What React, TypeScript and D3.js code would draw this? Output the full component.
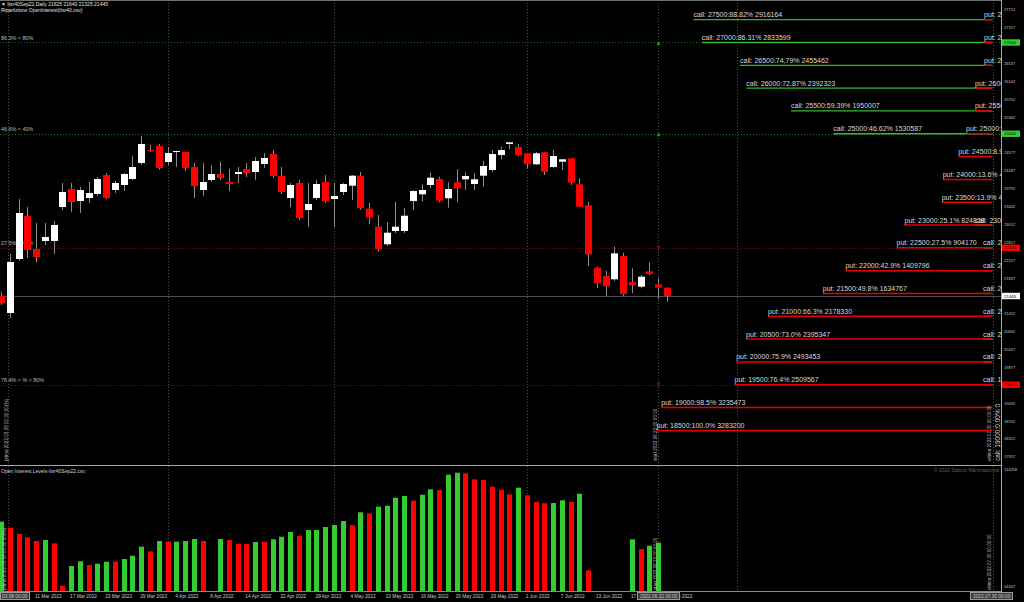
import React from "react";
import * as d3 from "d3";

const W = 1024;
const H = 602;

// ---- Daily candles (Itsr40Sep22) ----
const opens = [21445,21072,22256,23198,22475,22650,22650,23395,23789,23526,23592,23680,24096,23768,23877,24009,24359,24644,24732,24381,24600,24600,24272,23768,23987,24118,23943,24118,24228,24162,24337,24556,24074,23592,23921,23329,23592,23943,23570,23724,23862,24081,23358,22963,22578,22869,22869,23526,23673,23877,24009,23586,23936,24002,23899,24081,24206,24534,24776,24710,24572,24331,24594,24272,24388,24462,23892,23432,22065,21883,21811,22321,21745,21649,21986,21701,21625];
const highs = [21532,22365,23570,23395,23044,23044,23088,23921,23921,23833,23943,24053,24140,23965,24140,24513,24951,24754,24776,24710,24630,24610,24359,24359,24315,24381,24228,24272,24359,24491,24578,24644,24272,23921,23987,23921,23987,24096,23921,23921,24096,24162,23489,23220,23066,23511,23373,23760,23892,24147,24059,23936,24221,24155,24133,24403,24644,24716,24813,24776,24580,24600,24600,24644,24445,24470,24024,23511,22087,21999,22525,22394,22052,21905,22183,21833,21640];
const lows = [21248,20963,22212,22277,22190,22562,22365,23329,23285,23264,23483,23636,23570,23702,23746,23987,24315,24600,24206,24315,24272,24184,23592,23636,23943,23987,23746,23921,24053,23987,24250,24031,23680,23395,23110,22957,23548,23483,22957,23658,23548,23329,23022,22416,22541,22825,22825,23329,23511,23805,23498,23380,23498,23768,23768,23840,24162,24440,24659,24512,24243,24315,24096,24250,24206,23877,23395,22102,21614,21445,21774,21445,21504,21614,21905,21379,21325];
const closes = [21291,22190,23264,22453,22299,22738,23001,23724,23505,23768,23702,24009,23592,23921,24118,24272,24776,24622,24250,24578,24622,24250,23855,23943,24118,24031,23899,24162,24140,24403,24469,24074,23724,23877,23154,23461,23899,23526,23636,23899,24081,23367,23169,22468,22832,22963,23204,23746,23768,24037,23533,23789,23805,24074,24002,24294,24556,24644,24813,24534,24331,24572,24169,24513,24440,23928,23402,22359,21723,21657,22380,21489,21679,21868,21927,21627,21445];

// ---- Open interest histogram (lower pane) ----
const oiValues = [87782,84710,81484,79794,77899,78411,76721,55008,65096,67503,65608,66274,67298,67298,68681,70371,74980,72624,77899,77540,77540,77899,78923,77899,null,78923,78411,76516,76363,77387,77387,78769,80101,82508,80613,83532,83532,85068,86092,88141,85939,92596,92084,95464,95976,100073,100943,98537,101609,104374,104016,111851,112875,112568,109495,109137,105706,104170,101814,105194,101302,97871,97205,97359,98741,97871,102121,62894,null,null,null,null,78769,73802,75492,77028,null];
const oiUp = [1,0,0,0,0,1,0,0,1,1,0,1,1,0,1,1,1,0,1,0,1,1,1,0,null,1,0,0,0,1,0,1,1,1,0,1,1,1,1,1,0,1,0,1,1,1,1,0,1,1,0,1,1,0,0,0,0,0,0,1,0,0,0,1,1,0,1,0,null,null,null,null,1,0,1,1,null];

// ---- Time axis ----
const timeLabels = ["11 Mar 2022","17 Mar 2022","23 Mar 2022","29 Mar 2022","4 Apr 2022","8 Apr 2022","14 Apr 2022","22 Apr 2022","28 Apr 2022","4 May 2022","10 May 2022","16 May 2022","20 May 2022","26 May 2022","1 Jun 2022","7 Jun 2022","13 Jun 2022","17 Jun 2022","23 Jun 2022"];
const timeLabelBars = [4,8,12,16,20,24,28,32,36,40,44,48,52,56,60,64,68,72,76];
const monthGridBars = [19, 38, 60, 84];
const firstBar = 0.75;
const startBar = 75;
const lastBar = 113.2;

// ---- Price axis ----
const priceTicks = [27712,27317,26537,26142,25752,25362,24577,24187,23792,23402,23012,22617,22227,21837,21052,20662,20267,19877,19092,18702,18312,17917];
const oiTicks = [114258, 54347];
const lastPrice = 21445;

// ---- Strikes ----
const strikes = [27500,27000,26500,26000,25500,25000,24500,24000,23500,23000,22500,22000,21500,21000,20500,20000,19500,19000,18500];
const callOI = [2916164,2833599,2455462,2392323,1950007,1530587,null,null,null,126000,46600,46600,46600,46600,46600,46600,46600,null,null];
const callPct = [88.82,86.31,74.79,72.87,59.39,46.62,null,null,null,3.84,1.42,1.42,1.42,1.42,1.42,1.42,1.42,null,null];
const putOI = [36700,36700,36700,126000,126000,215000,292000,446515,456365,824828,904170,1409796,1634767,2178330,2395347,2493453,2509567,3235473,3283200];
const putPct = [1.1,1.1,1.1,3.8,3.8,6.5,8.9,13.6,13.9,25.1,27.5,42.9,49.8,66.3,73.0,75.9,76.4,98.5,100.0];

// ---- Level lines ----
const levelPrices = [27000, 25000, 22500, 19500];
const levelTexts = ["86.3% < 80%", "46.6% < 40%", "27.5% < 40%", "76.4% < % < 80%"];
const levelIsCall = [true, true, false, false];

const FONT = "'Liberation Sans', Arial, sans-serif";
const PLOT_R = 1001;
const TOP_B = 465;
const LOW_T = 466;
const LOW_B = 591;

export default function App() {
  const x = d3.scaleLinear().domain([0, 76]).range([1, 667]);
  const y = d3.scaleLinear().domain([17917, 27712]).range([457, 10]);
  const yOI = d3.scaleLinear().domain([54347, 114258]).range([587, 470]);
  const len = d3.scaleLinear().domain([0, 3283200]).range([4.8, 336]);
  const lineEnd = 992.5;

  const green = "#2fb82f";
  const red = "#e80000";

  const rotText = (tx: number, ty: number, s: string, size: number, fill: string, key: string) => (
    <text key={key} transform={`translate(${tx},${ty}) rotate(-90)`} fontSize={size} fill={fill} fontFamily={FONT}>{s}</text>
  );

  const vLines = (y0: number, y1: number, k: string) => (
    <g key={k}>
      {monthGridBars.map((b, i) => (
        <line key={i} x1={Math.round(x(b)) + 0.5} x2={Math.round(x(b)) + 0.5} y1={y0} y2={y1} stroke="#4a4a4a" strokeDasharray="1 2" />
      ))}
      <line x1={Math.round(x(firstBar)) + 0.5} x2={Math.round(x(firstBar)) + 0.5} y1={y0} y2={y1} stroke="#4a4a4a" strokeDasharray="1 2" />
      <line x1={Math.round(x(startBar)) + 0.5} x2={Math.round(x(startBar)) + 0.5} y1={y0} y2={y1} stroke="#555" strokeDasharray="1 2" />
      <line x1={Math.round(x(lastBar)) + 0.5} x2={Math.round(x(lastBar)) + 0.5} y1={y0} y2={y1} stroke="#555" strokeDasharray="1 2" />
    </g>
  );

  return (
    <div style={{ position: "absolute", left: 0, top: 0 }}>
      <svg width={W} height={H} style={{ display: "block", background: "#000" }}>
        <defs>
          <clipPath id="top"><rect x={0} y={0} width={PLOT_R} height={TOP_B} /></clipPath>
          <clipPath id="low"><rect x={0} y={LOW_T} width={PLOT_R} height={LOW_B - LOW_T} /></clipPath>
        </defs>
        <rect x={0} y={0} width={W} height={H} fill="#000" />

        {/* ---------- upper pane ---------- */}
        <g clipPath="url(#top)">
          {vLines(0, TOP_B, "vt")}
          {levelPrices.map((p, i) => (
            <line key={i} x1={0} x2={PLOT_R} y1={Math.round(y(p)) + 0.5} y2={Math.round(y(p)) + 0.5}
              stroke={levelIsCall[i] ? "#1d6e1d" : "#7a0c0c"} strokeDasharray="1 2" />
          ))}
          {levelPrices.map((p, i) => (
            <text key={"lt" + i} x={1} y={y(p) - 2.5} fontSize={5.4} fill="#bdbdbd" fontFamily={FONT}>{levelTexts[i]}</text>
          ))}
          <line x1={0} x2={PLOT_R} y1={Math.round(y(lastPrice)) + 0.5} y2={Math.round(y(lastPrice)) + 0.5} stroke="#4b4b5c" />

          {opens.map((o, i) => {
            const c = closes[i];
            const up = c >= o;
            const cx = Math.round(x(i));
            const yt = Math.min(y(o), y(c));
            const hb = Math.max(1, Math.abs(y(o) - y(c)));
            return (
              <g key={i}>
                <line x1={cx + 0.5} x2={cx + 0.5} y1={y(highs[i])} y2={y(lows[i])} stroke="#8c8c8c" />
                <rect x={cx - 3} y={yt} width={7} height={hb} fill={up ? "#ffffff" : "#ff0000"} />
              </g>
            );
          })}

          {levelPrices.map((p, i) => {
            const mx = Math.round(x(startBar)) + 0.5;
            const my = y(p) + 1;
            return levelIsCall[i]
              ? <path key={"m" + i} d={`M${mx - 2},${my + 1.5} L${mx + 2},${my + 1.5} L${mx},${my - 2.5} Z`} fill="#1f8f1f" />
              : <path key={"m" + i} d={`M${mx - 2},${my - 3} L${mx + 2},${my - 3} L${mx},${my + 1} Z`} fill="#7a1010" />;
          })}

          {strikes.map((k, i) => callOI[i] == null ? null : (
            <line key={"cl" + i} x1={lineEnd - len(callOI[i] as number)} x2={lineEnd} y1={y(k)} y2={y(k)} stroke={green} strokeWidth={1.3} />
          ))}
          {strikes.map((k, i) => (
            <line key={"pl" + i} x1={lineEnd - len(putOI[i])} x2={lineEnd} y1={y(k)} y2={y(k)} stroke={red} strokeWidth={1.5} />
          ))}
          {strikes.map((k, i) => callOI[i] == null ? null : (
            <text key={"ct" + i} x={lineEnd - len(callOI[i] as number)} y={y(k) - 2.5} fontSize={7} fill="#d9d9d9" fontFamily={FONT}>
              {`call: ${k}:${(callPct[i] as number).toFixed(2)}% ${callOI[i]}`}
            </text>
          ))}
          {strikes.map((k, i) => (
            <text key={"pt" + i} x={lineEnd - len(putOI[i])} y={y(k) - 2.5} fontSize={7} fill="#d9d9d9" fontFamily={FONT}>
              {`put: ${k}:${putPct[i].toFixed(1)}% ${putOI[i]}`}
            </text>
          ))}

          {rotText(7.5, 461, "prima 2022.03.08 00:00:00(%)", 4.6, "#bdbdbd", "r1")}
          {rotText(x(startBar) - 1, 461, "start 2022.06.22 00:00:00", 4.6, "#bdbdbd", "r2")}
          {rotText(x(lastBar) - 2, 461, "ultima 2022.07.30 00:00:00", 4.6, "#bdbdbd", "r3")}
          {rotText(999.5, 461, "call: 19000:0.00% 0", 6.5, "#d9d9d9", "r4")}

          <text x={1} y={6} fontSize={5} fill="#e0e0e0" fontFamily={FONT}>▼ Itsr40Sep22,Daily  21625 21640 21325 21445</text>
          <text x={1} y={12} fontSize={5} fill="#e0e0e0" fontFamily={FONT}>Ripartizione OpenInterest(Itsr40.csv)</text>
        </g>

        {/* ---------- lower pane ---------- */}
        <g clipPath="url(#low)">
          {vLines(LOW_T, LOW_B, "vl")}
          {oiValues.map((v, i) => v == null ? null : (
            <rect key={i} x={Math.round(x(i)) - 2} y={yOI(v)} width={5} height={LOW_B - yOI(v)} fill={oiUp[i] ? "#33cc33" : "#ff0000"} />
          ))}
          <text x={1} y={473} fontSize={5} fill="#d0d0d0" fontFamily={FONT}>Open Interest Levels-Itsr40Sep22.csv:</text>
          <text x={999} y={472} fontSize={5} fill="#5e5e5e" textAnchor="end" fontFamily={FONT}>© 2022 Sabino Martinadonna</text>
          {rotText(6, 590, "prima 2022.03.08 00:00:00(%)", 4.6, "#bdbdbd", "q1")}
          {rotText(x(startBar) - 1, 590, "start 2022.06.22 00:00:00", 4.6, "#bdbdbd", "q2")}
          {rotText(x(lastBar) - 2, 590, "ultima 2022.07.30 00:00:00", 4.6, "#bdbdbd", "q3")}
        </g>

        <line x1={0} x2={PLOT_R} y1={0.5} y2={0.5} stroke="#707070" />
        <line x1={0} x2={PLOT_R} y1={TOP_B + 0.5} y2={TOP_B + 0.5} stroke="#a8a8a8" />
        <line x1={0} x2={PLOT_R} y1={LOW_B + 0.5} y2={LOW_B + 0.5} stroke="#8a8a8a" />
        <line x1={PLOT_R + 0.5} x2={PLOT_R + 0.5} y1={0} y2={LOW_B + 1} stroke="#a8a8a8" />

        {priceTicks.map((t, i) => (
          <text key={i} x={1004} y={y(t) + 1.4} fontSize={4} fill="#c8c8c8" fontFamily={FONT}>{t}</text>
        ))}
        {levelPrices.map((p, i) => (
          <g key={"bx" + i}>
            <rect x={1002} y={y(p) - 3.2} width={18} height={6.4} fill={levelIsCall[i] ? "#33cc33" : "#ff0000"} />
            <text x={1004} y={y(p) + 1.6} fontSize={4.4} fill="#101010" fontFamily={FONT}>{p}</text>
          </g>
        ))}
        <rect x={1002} y={y(lastPrice) - 3.2} width={18} height={6.4} fill="#ffffff" />
        <text x={1004} y={y(lastPrice) + 1.6} fontSize={4.4} fill="#000" fontFamily={FONT}>{lastPrice}</text>

        {oiTicks.map((t, i) => (
          <text key={"o" + i} x={1004} y={yOI(t) + 1.4} fontSize={4} fill="#c8c8c8" fontFamily={FONT}>{t}</text>
        ))}

        {timeLabels.map((s, i) => (
          <text key={"tl" + i} x={x(timeLabelBars[i]) - 1} y={598} fontSize={4.8} fill="#c8c8c8" fontFamily={FONT}>{s}</text>
        ))}
        <rect x={0.5} y={592.5} width={29} height={7} fill="#3a3a3a" stroke="#9a9a9a" />
        <text x={2} y={598} fontSize={4.8} fill="#d0d0d0" fontFamily={FONT}>03.08 00:00</text>
        <rect x={637.5} y={592.5} width={42} height={7} fill="#3a3a3a" stroke="#9a9a9a" />
        <text x={640} y={598} fontSize={4.8} fill="#d0d0d0" fontFamily={FONT}>2022.06.22 00:00</text>
        <rect x={970.5} y={592.5} width={42} height={7} fill="#3a3a3a" stroke="#9a9a9a" />
        <text x={973} y={598} fontSize={4.8} fill="#d0d0d0" fontFamily={FONT}>2022.07.30 00:00</text>
      </svg>
    </div>
  );
}
